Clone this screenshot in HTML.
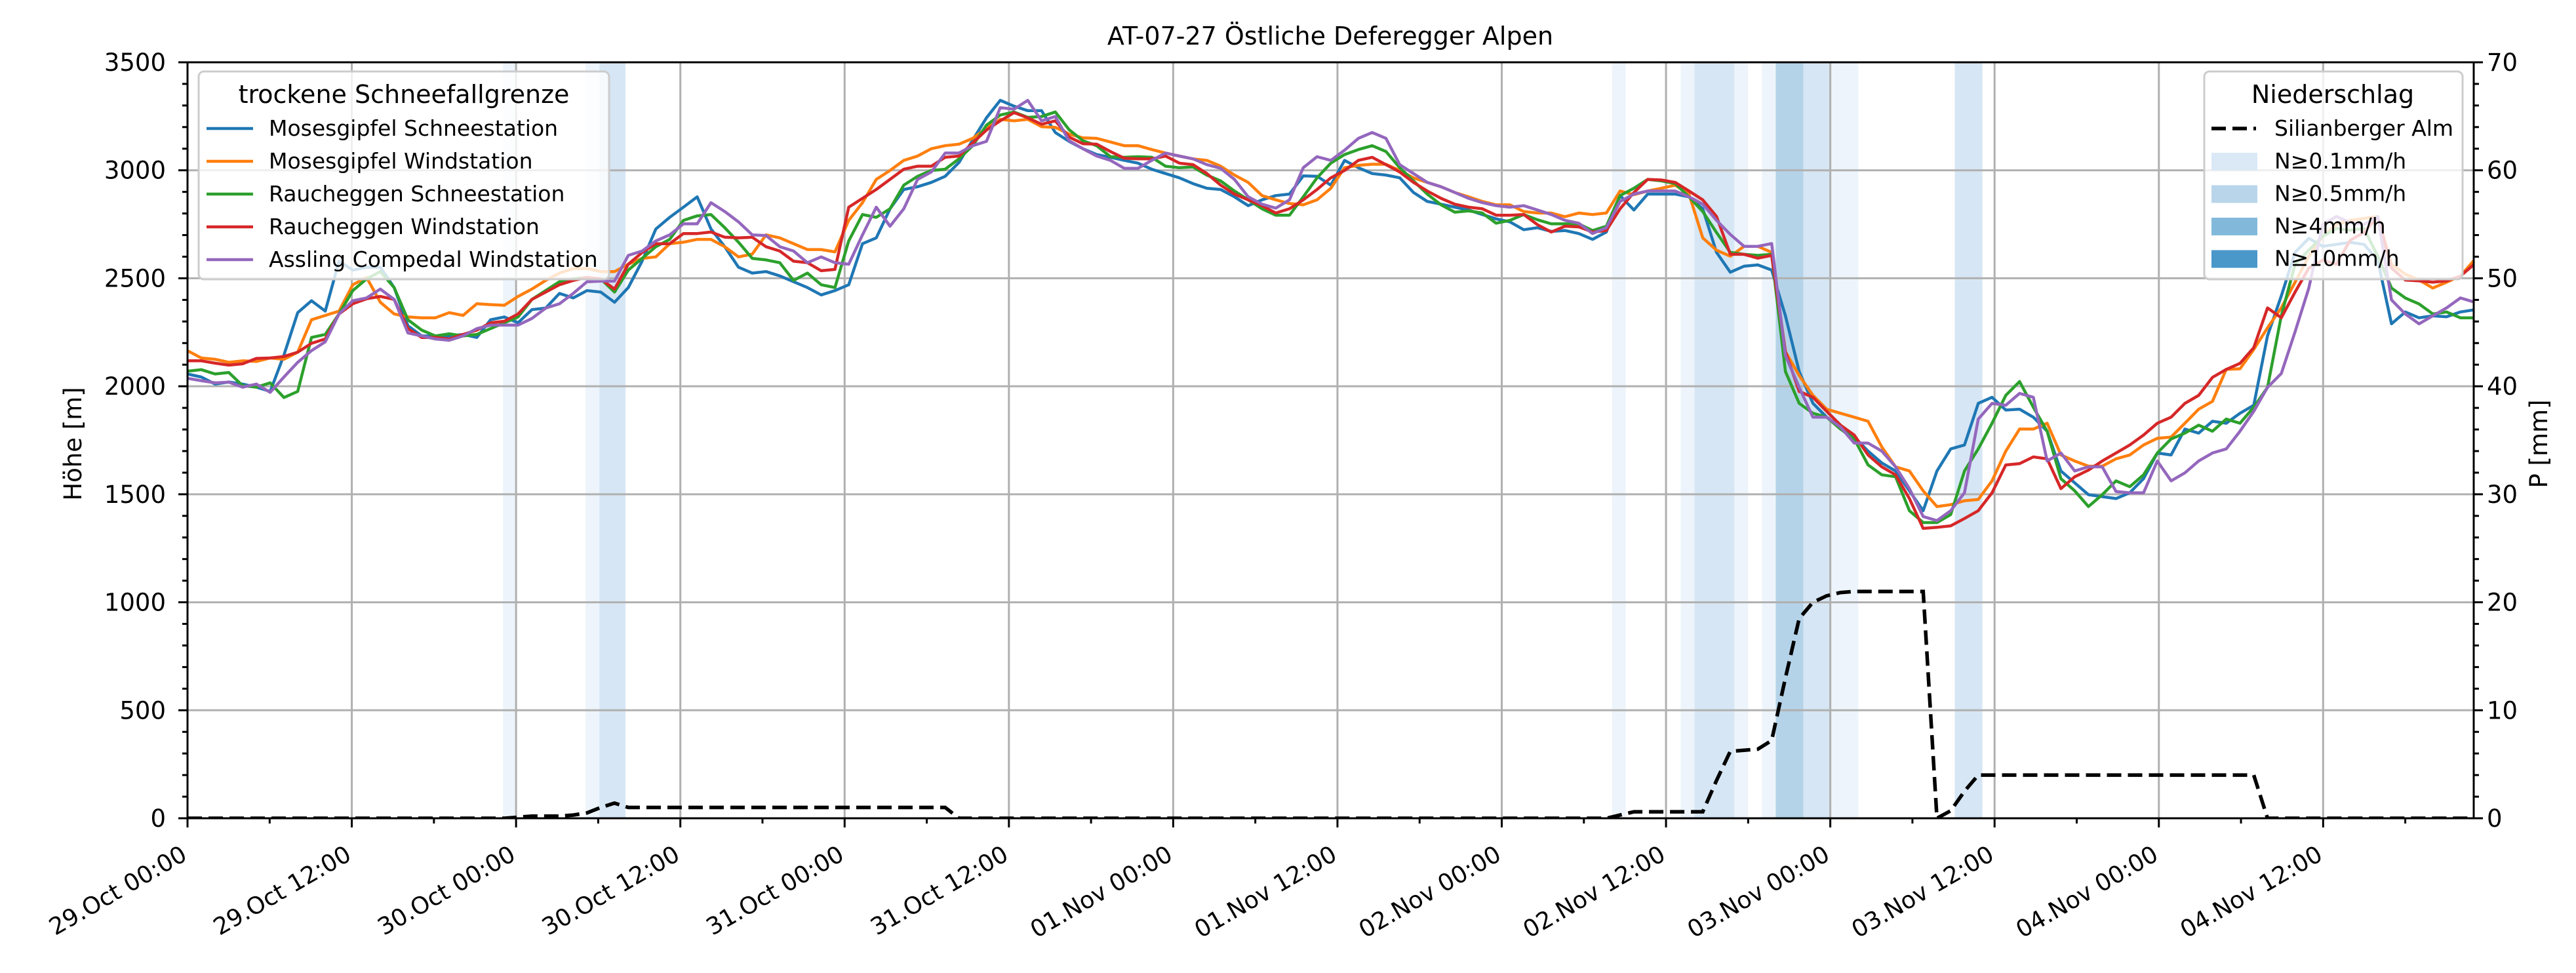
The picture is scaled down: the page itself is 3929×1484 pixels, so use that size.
<!DOCTYPE html>
<html><head><meta charset="utf-8"><style>
html,body{margin:0;padding:0;background:#fff;}
svg{display:block;font-family:"DejaVu Sans","Liberation Sans",sans-serif;}
</style></head><body>
<svg id="chart" xmlns="http://www.w3.org/2000/svg" width="3929" height="1484" viewBox="0 0 3929 1484">
<defs><clipPath id="plotclip"><rect x="286" y="95" width="3487" height="1153"/></clipPath></defs>
<rect x="0" y="0" width="3929" height="1484" fill="#fff"/>
<text x="2029" y="68" text-anchor="middle" font-size="38">AT-07-27 Östliche Deferegger Alpen</text>
<g id="bands" clip-path="url(#plotclip)"></g><g id="grid"></g><g id="series" clip-path="url(#plotclip)"></g><g id="precip" clip-path="url(#plotclip)"></g><g id="axes"></g><g id="legends"></g>
</svg>
<script>
const tickHours=[0,12,24,36,48,60,72,84,96,108,120,132,144,156];
const tickLabels=["29.Oct 00:00","29.Oct 12:00","30.Oct 00:00","30.Oct 12:00","31.Oct 00:00","31.Oct 12:00","01.Nov 00:00","01.Nov 12:00","02.Nov 00:00","02.Nov 12:00","03.Nov 00:00","03.Nov 12:00","04.Nov 00:00","04.Nov 12:00"];
const yTicks=[0,500,1000,1500,2000,2500,3000,3500];
const pTicks=[0,10,20,30,40,50,60,70];
const seriesNames=["Mosesgipfel Schneestation","Mosesgipfel Windstation","Raucheggen Schneestation","Raucheggen Windstation","Assling Compedal Windstation"];
const mosesSchnee=[2057,2043,2010,2020,2010,1996,1976,2145,2341,2396,2348,2579,2538,2551,2551,2457,2280,2233,2233,2233,2240,2226,2308,2321,2294,2355,2362,2430,2409,2443,2436,2389,2457,2579,2728,2782,2829,2877,2728,2646,2551,2524,2531,2511,2484,2457,2423,2443,2470,2660,2687,2822,2911,2924,2944,2972,
3036,3140,3243,3324,3297,3276,3276,3175,3134,3100,3073,3060,3046,3033,3005,2985,2965,2938,2917,2911,2877,2836,2863,2883,2890,2974,2972,2931,3046,3012,2985,2978,2965,2897,2856,2843,2829,2816,2795,2775,2761,2725,2734,2717,2721,2707,2680,2714,2883,2816,2890,2890,2890,2877,2822,
2620,2528,2556,2562,2538,2326,2068,1921,1857,1811,1765,1700,1645,1608,1516,1424,1608,1710,1728,1921,1949,1890,1894,1857,1792,1608,1553,1498,1489,1480,1507,1572,1691,1682,1802,1783,1838,1829,1875,1912,2234,2418,2620,2685,2648,2657,2666,2657,2584,2289,2344,2317,2326,2322,2344,2354,2360];
const mosesWind=[2165,2131,2125,2111,2118,2115,2131,2125,2158,2308,2328,2348,2470,2504,2389,2335,2321,2317,2317,2341,2328,2382,2378,2375,2416,2450,2490,2524,2545,2545,2531,2531,2565,2592,2599,2660,2667,2680,2680,2646,2599,2612,2701,2687,2660,2633,2633,2622,2768,2850,2958,2999,3046,3066,3100,3114,
3121,3148,3195,3236,3229,3236,3202,3199,3168,3150,3148,3131,3114,3114,3096,3080,3066,3053,3046,3019,2978,2944,2883,2863,2846,2840,2863,2917,3012,3023,3028,3028,2999,2965,2944,2924,2897,2877,2856,2840,2840,2809,2802,2802,2785,2802,2795,2802,2904,2887,2904,2917,2931,2890,2687,
2630,2602,2648,2648,2620,2160,2050,1958,1894,1875,1857,1838,1719,1627,1608,1516,1443,1452,1470,1476,1562,1700,1802,1802,1829,1682,1654,1630,1630,1664,1682,1728,1759,1765,1829,1894,1930,2078,2081,2170,2271,2363,2482,2602,2694,2749,2768,2777,2786,2565,2519,2492,2455,2482,2510,2584,2600];
const rauchSchnee=[2070,2077,2057,2064,2003,1996,2016,1948,1976,2226,2240,2335,2443,2497,2531,2457,2308,2260,2233,2243,2233,2240,2267,2294,2321,2402,2443,2484,2497,2504,2497,2436,2538,2592,2646,2680,2768,2789,2795,2734,2667,2592,2585,2572,2490,2524,2470,2457,2673,2795,2782,2822,2931,2972,2999,3005,
3053,3114,3209,3256,3270,3245,3249,3270,3188,3137,3114,3063,3060,3063,3060,3019,3012,3015,2978,2951,2904,2863,2822,2792,2792,2877,2965,3033,3073,3096,3114,3087,3012,2951,2890,2840,2806,2812,2802,2755,2768,2795,2771,2752,2752,2752,2721,2741,2883,2917,2958,2951,2938,2877,2809,
2712,2620,2611,2606,2611,2068,1921,1875,1857,1802,1756,1636,1590,1581,1424,1369,1369,1406,1608,1710,1829,1958,2022,1903,1792,1572,1516,1443,1498,1562,1535,1590,1691,1756,1783,1820,1792,1848,1829,1903,1995,2326,2565,2630,2694,2731,2722,2731,2602,2455,2409,2381,2335,2344,2317,2317,2310];
const rauchWind=[2118,2118,2107,2098,2104,2129,2131,2138,2158,2199,2219,2335,2382,2405,2416,2402,2267,2226,2226,2219,2240,2260,2294,2301,2335,2402,2436,2470,2490,2504,2497,2450,2565,2619,2660,2660,2707,2707,2714,2690,2687,2690,2646,2626,2579,2572,2535,2541,2829,2870,2911,2958,3005,3019,3019,3060,
3066,3127,3186,3229,3267,3243,3213,3229,3154,3123,3121,3087,3056,3053,3053,3066,3033,3026,2985,2931,2890,2863,2836,2802,2822,2863,2911,2965,2999,3046,3060,3026,2992,2944,2904,2870,2843,2829,2822,2792,2792,2795,2748,2714,2741,2738,2714,2721,2822,2897,2958,2955,2944,2904,2863,
2786,2611,2611,2593,2606,2160,1976,1949,1884,1820,1774,1682,1627,1590,1480,1342,1347,1354,1388,1424,1507,1636,1642,1673,1664,1526,1581,1612,1654,1691,1728,1774,1829,1857,1921,1958,2041,2078,2106,2179,2363,2317,2436,2547,2584,2565,2676,2712,2786,2547,2492,2488,2482,2488,2510,2565,2590];
const assling=[2037,2026,2016,2019,1996,2010,1972,2043,2111,2165,2206,2335,2396,2409,2450,2402,2247,2233,2219,2213,2233,2267,2283,2283,2283,2314,2362,2382,2430,2484,2487,2487,2606,2626,2673,2701,2752,2752,2850,2809,2761,2701,2698,2646,2626,2572,2599,2572,2565,2701,2829,2741,2822,2958,2992,3080,
3080,3114,3134,3290,3283,3324,3229,3249,3137,3100,3066,3046,3009,3009,3046,3080,3066,3053,3026,3009,2958,2877,2843,2825,2863,3012,3063,3046,3093,3148,3175,3148,3026,2985,2944,2924,2897,2870,2850,2836,2829,2836,2816,2795,2768,2755,2707,2734,2856,2890,2904,2904,2904,2877,2843,
2768,2703,2648,2648,2661,2142,1995,1857,1857,1811,1737,1737,1700,1627,1526,1397,1378,1424,1507,1848,1921,1912,1967,1949,1654,1691,1608,1627,1627,1513,1507,1507,1654,1562,1599,1654,1691,1710,1792,1884,1995,2059,2252,2455,2749,2786,2758,2749,2786,2400,2335,2289,2326,2363,2409,2390,2385];
const precipMM=[0,0,0,0,0,0,0,0,0,0,0,0,0,0,0,0,0,0,0,0,0,0,0,0,
0.1,0.2,0.2,0.2,0.3,0.5,1.0,1.4,
1,1,1,1,1,1,1,1,1,1,1,1,1,1,1,1,1,1,1,1,1,1,1,1,
0,0,0,0,0,0,0,0,0,0,0,0,0,0,0,0,0,0,0,0,0,0,0,0,0,0,0,0,0,0,0,0,0,0,0,0,0,0,0,0,0,0,0,0,0,0,0,0,
0.3,0.6,0.6,0.6,0.6,0.6,0.6,
3.5,6.2,6.3,6.4,7.2,13,18.5,20,20.6,20.9,
21,21,21,21,21,21,
0,0.7,2.5,
4,4,4,4,4,4,4,4,4,4,4,4,4,4,4,4,4,4,4,4,4,
0,0,0,0,0,0,0,0,0,0,0,0,0,0,0,0,0];
const bandStart=[22.9,28.9,29.9,103.4,108.4,109.4,112.3,114.3,115.3,117.3,119.3,128.3];
const bandEnd=[23.9,29.9,31.8,104.4,109.4,112.3,113.3,115.3,117.3,119.3,121.3,130.3];
const bandLevel=[0,0,1,0,0,1,0,0,2,1,0,1];

const NS="http://www.w3.org/2000/svg";
const L=286,R=3773,T=95,B=1248,HMAX=167;
const colors=["#1f77b4","#ff7f0e","#2ca02c","#d62728","#9467bd"];
const bandColors=["#edf4fb","#d6e6f4","#b5d3e8"];
function xs(h){return L+21.01*h;}          // data positions
function xt(h){return L+(R-L)*h/HMAX;}      // tick positions
function ys(v){return B-(B-T)*v/3500;}
function yp(p){return B-(B-T)*p/70;}
function mk(tag,attrs,parent){const e=document.createElementNS(NS,tag);for(const k in attrs)e.setAttribute(k,attrs[k]);parent.appendChild(e);return e;}
const gB=document.getElementById('bands'),gG=document.getElementById('grid'),gS=document.getElementById('series'),gP=document.getElementById('precip'),gA=document.getElementById('axes'),gL=document.getElementById('legends');

for(let i=0;i<bandStart.length;i++){
  const r=mk('rect',{x:xs(bandStart[i]),y:T,width:xs(bandEnd[i])-xs(bandStart[i]),height:B-T,fill:bandColors[bandLevel[i]]},gB);
  
  
}
tickHours.forEach(h=>{
  const l=mk('line',{x1:xt(h),x2:xt(h),y1:T,y2:B,stroke:'#b0b0b0','stroke-width':3},gG);
  
  
});
yTicks.forEach(v=>{
  const l=mk('line',{x1:L,x2:R,y1:ys(v),y2:ys(v),stroke:'#b0b0b0','stroke-width':3},gG);
  
  
});
const allSeries=[mosesSchnee,mosesWind,rauchSchnee,rauchWind,assling];
allSeries.forEach((arr,si)=>{
  const pts=arr.map((v,h)=>xs(h).toFixed(1)+','+ys(v).toFixed(1)).join(' ');
  const p=mk('polyline',{points:pts,fill:'none',stroke:colors[si],'stroke-width':4.5,'stroke-linejoin':'round'},gS);
  
  
});
{
  const pts=precipMM.map((v,h)=>xs(h).toFixed(1)+','+yp(v).toFixed(1)).join(' ');
  const p=mk('polyline',{points:pts,fill:'none',stroke:'#000','stroke-width':5.5,'stroke-dasharray':'22,10'},gP);
  
  
}
const sp=mk('rect',{x:L,y:T,width:R-L,height:B-T,fill:'none',stroke:'#000','stroke-width':3},gA);


for(let h=0;h<=HMAX;h+=6){
  const major=(h%12===0);
  const t=mk('line',{x1:xt(h),x2:xt(h),y1:B,y2:B+(major?14:8),stroke:'#000','stroke-width':3},gA);
  
  
}
tickHours.forEach((h,i)=>{
  const t=mk('text',{transform:'translate('+(xt(h)+1.5)+',1310) rotate(-30)','text-anchor':'end','font-size':36},gA);
  t.textContent=tickLabels[i];
  
  
});
for(let v=0;v<=3500;v+=100){
  const major=(v%500===0);
  const t=mk('line',{x1:L,x2:L-(major?14:8),y1:ys(v),y2:ys(v),stroke:'#000','stroke-width':3},gA);
  
  
}
yTicks.forEach(v=>{
  const t=mk('text',{x:253,y:ys(v)+13,'text-anchor':'end','font-size':37},gA);
  t.textContent=String(v);
  
  
});
for(let p=0;p<=70;p+=2){
  const major=(p%10===0);
  const t=mk('line',{x1:R,x2:R+(major?14:8),y1:yp(p),y2:yp(p),stroke:'#000','stroke-width':3},gA);
  
  
}
pTicks.forEach(p=>{
  const t=mk('text',{x:3793,y:yp(p)+13,'text-anchor':'start','font-size':37},gA);
  t.textContent=String(p);
  
  
});
{
  const t=mk('text',{transform:'translate(124,677) rotate(-90)','text-anchor':'middle','font-size':37},gA);
  t.textContent='Höhe [m]';
  
  
  const t2=mk('text',{transform:'translate(3885,677) rotate(-90)','text-anchor':'middle','font-size':37},gA);
  t2.textContent='P [mm]';
  
  
}
{
  const g=mk('g',{},gL);
  
  
  const box=mk('rect',{x:303,y:109,width:626,height:317,rx:8,fill:'rgba(255,255,255,0.8)',stroke:'#cccccc','stroke-width':3},g);
  
  
  const tt=mk('text',{x:616,y:157,'text-anchor':'middle','font-size':38},g);
  tt.textContent='trockene Schneefallgrenze';
  
  
  seriesNames.forEach((n,i)=>{
    const cy=196+i*50;
    const ln=mk('line',{x1:315,x2:386,y1:cy,y2:cy,stroke:colors[i],'stroke-width':4.5},g);
    
    
    const tx=mk('text',{x:410,y:cy+11,'font-size':33},g);
    tx.textContent=n;
    
    
  });
}
{
  const g=mk('g',{},gL);
  
  
  const box=mk('rect',{x:3362,y:109,width:394,height:317,rx:8,fill:'rgba(255,255,255,0.8)',stroke:'#cccccc','stroke-width':3},g);
  
  
  const tt=mk('text',{x:3558,y:157,'text-anchor':'middle','font-size':38},g);
  tt.textContent='Niederschlag';
  
  
  const ln=mk('line',{x1:3373,x2:3441,y1:196,y2:196,stroke:'#000','stroke-width':5.5,'stroke-dasharray':'22,10'},g);
  
  
  const t0=mk('text',{x:3469,y:207,'font-size':33},g);
  t0.textContent='Silianberger Alm';
  
  
  const patchColors=['#dbe9f6','#b9d5ea','#82b9da','#4a97c9'];
  const patchLabels=['N≥0.1mm/h','N≥0.5mm/h','N≥4mm/h','N≥10mm/h'];
  patchLabels.forEach((lab,i)=>{
    const y0=233+i*49.5;
    const r=mk('rect',{x:3373,y:y0,width:70,height:27,fill:patchColors[i]},g);
    
    
    const tx=mk('text',{x:3469,y:y0+24,'font-size':33},g);
    tx.textContent=lab;
    
    
  });
}
</script>
</body></html>
